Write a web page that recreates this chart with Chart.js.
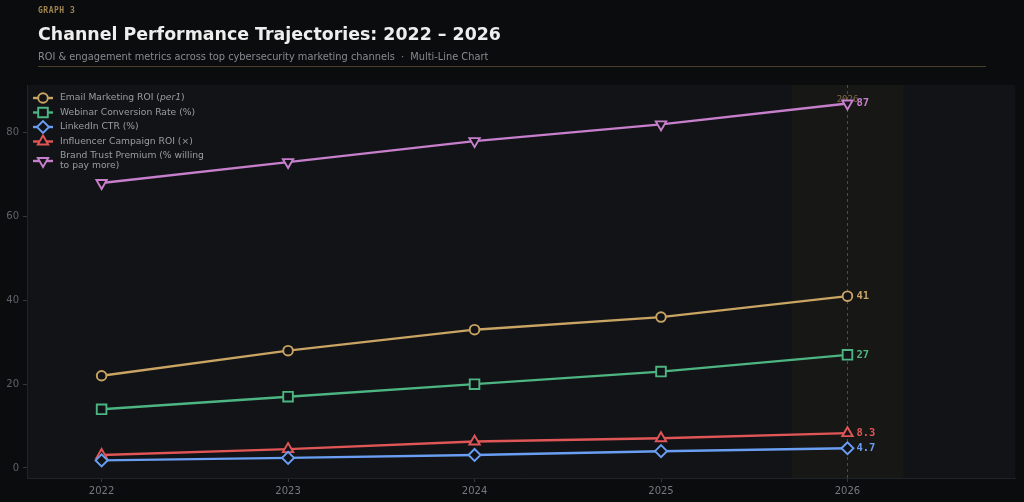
<!DOCTYPE html>
<html>
<head>
<meta charset="utf-8">
<script src="https://cdn.jsdelivr.net/npm/chart.js@4"></script>
<style>
  body { margin: 0; background: #0b0c0e; width: 1024px; height: 502px; overflow: hidden; }
  #wrap { position: relative; width: 1024px; height: 502px; }
  canvas { position: absolute; left: 0; top: 0; }
  .kicker { position: absolute; left: 38px; top: 6px; font: bold 8px "DejaVu Sans Mono", monospace; color: #a08550; letter-spacing: 0.5px; }
  .title { position: absolute; left: 38px; top: 24px; font: bold 17.4px "DejaVu Sans", sans-serif; color: #eeeeee; white-space: nowrap; }
  .sub { position: absolute; left: 38px; top: 51px; font: 9.8px "DejaVu Sans", sans-serif; color: #878a90; white-space: nowrap; }
  .rule { position: absolute; left: 38px; top: 66px; width: 948px; height: 1px; background: #4a3f2a; }
</style>
</head>
<body>
<div id="wrap">
  <canvas id="chart" width="1024" height="502"></canvas>
  <div class="kicker">GRAPH 3</div>
  <div class="title">Channel Performance Trajectories: 2022 – 2026</div>
  <div class="sub">ROI &amp; engagement metrics across top cybersecurity marketing channels &nbsp;·&nbsp; Multi-Line Chart</div>
  <div class="rule"></div>
</div>
<script>
// datos
const years = [2022, 2023, 2024, 2025, 2026];
const emailRoi = [22, 28, 33, 36, 41];
const webinarRate = [14, 17, 20, 23, 27];
const linkedinCtr = [1.8, 2.4, 3.1, 4.0, 4.7];
const influencerRoi = [3.1, 4.5, 6.3, 7.1, 8.3];
const brandTrust = [68, 73, 78, 82, 87];
const yTicks = [0, 20, 40, 60, 80];
const endLabels = ['41', '27', '4.7', '8.3', '87'];

const seriesNames = [
    'Email Marketing ROI (per1)',
    'Webinar Conversion Rate (%)',
    'LinkedIn CTR (%)',
    'Influencer Campaign ROI (×)',
    ['Brand Trust Premium (% willing', 'to pay more)']
];
const seriesValues = [emailRoi, webinarRate, linkedinCtr, influencerRoi, brandTrust];
const colors = ['#c9a463', '#4cb582', '#6a9ef2', '#e05656', '#c77fcb'];
const styles = ['circle', 'rect', 'rectRot', 'triangle', 'triangle'];
const rotations = [0, 0, 0, 0, 180];
const radii = [4.8, 6.8, 6, 6, 6];

const PLOT_BG = '#111317';

const datasets = seriesValues.map((vals, i) => ({
    label: Array.isArray(seriesNames[i]) ? seriesNames[i].join(' ') : seriesNames[i],
    data: vals.map((v, j) => ({ x: years[j], y: v })),
    borderColor: colors[i],
    borderWidth: 2.4,
    pointStyle: styles[i],
    pointRotation: rotations[i],
    pointRadius: radii[i],
    pointBorderWidth: 1.9,
    pointBackgroundColor: PLOT_BG,
    pointBorderColor: colors[i],
    tension: 0
}));

// fondo, banda de 2026 y línea vertical
const backdrop = {
    id: 'backdrop',
    beforeDraw(chart) {
        const { ctx, chartArea: a, scales: { x } } = chart;
        ctx.save();
        ctx.fillStyle = PLOT_BG;
        ctx.fillRect(a.left, a.top, a.right - a.left, a.bottom - a.top);
        const b0 = x.getPixelForValue(2025.7), b1 = x.getPixelForValue(2026.3);
        ctx.fillStyle = '#171715';
        ctx.fillRect(b0, a.top, b1 - b0, a.bottom - a.top);
        const vx = x.getPixelForValue(2026);
        ctx.strokeStyle = '#5a4a30';
        ctx.lineWidth = 1;
        ctx.setLineDash([3, 3]);
        ctx.beginPath();
        ctx.moveTo(Math.round(vx) + 0.5, a.top);
        ctx.lineTo(Math.round(vx) + 0.5, a.bottom);
        ctx.stroke();
        ctx.setLineDash([]);
        ctx.fillStyle = '#7d6b45';
        ctx.font = '9px "DejaVu Sans Mono", monospace';
        ctx.textAlign = 'center';
        ctx.textBaseline = 'middle';
        ctx.fillText('2026', vx, a.top + 15);
        ctx.restore();
    }
};

// leyenda dentro del área y etiquetas finales
const overlay = {
    id: 'overlay',
    afterDatasetsDraw(chart) {
        const { ctx, chartArea: a } = chart;
        ctx.save();
        // etiquetas al final de cada serie
        ctx.font = 'bold 10.5px "DejaVu Sans Mono", monospace';
        ctx.textAlign = 'left';
        ctx.textBaseline = 'middle';
        chart.data.datasets.forEach((ds, i) => {
            const meta = chart.getDatasetMeta(i);
            const pt = meta.data[meta.data.length - 1];
            ctx.fillStyle = colors[i];
            ctx.fillText(endLabels[i], pt.x + 9, pt.y);
        });
        // leyenda
        const rows = [98, 112.5, 127, 141.5, 161];
        ctx.font = '9.2px "DejaVu Sans", sans-serif';
        seriesNames.forEach((name, i) => {
            const y = rows[i];
            ctx.strokeStyle = colors[i];
            ctx.lineWidth = 2.4;
            ctx.beginPath();
            ctx.moveTo(a.left + 6, y);
            ctx.lineTo(a.left + 26, y);
            ctx.stroke();
            ctx.fillStyle = PLOT_BG;
            ctx.lineWidth = 1.9;
            Chart.helpers.drawPoint(ctx, {
                pointStyle: styles[i], rotation: rotations[i],
                radius: radii[i], borderWidth: 1.9
            }, a.left + 16, y);
            ctx.fillStyle = '#9a9da3';
            if (Array.isArray(name)) {
                ctx.fillText(name[0], a.left + 33, y - 5.5);
                ctx.fillText(name[1], a.left + 33, y + 5);
            } else if (i === 0) {
                // "per1" va en cursiva
                const pre = 'Email Marketing ROI (';
                ctx.fillText(pre, a.left + 33, y);
                let w = ctx.measureText(pre).width;
                ctx.font = 'italic 9.2px "DejaVu Sans", sans-serif';
                ctx.fillText('per1', a.left + 33 + w, y);
                w += ctx.measureText('per1').width;
                ctx.font = '9.2px "DejaVu Sans", sans-serif';
                ctx.fillText(')', a.left + 33 + w, y);
            } else {
                ctx.fillText(name, a.left + 33, y);
            }
        });
        ctx.restore();
    }
};

new Chart(document.getElementById('chart'), {
    type: 'line',
    data: { datasets },
    options: {
        responsive: false,
        animation: false,
        layout: { padding: { top: 85, right: 8, left: 0, bottom: 0 } },
        plugins: { legend: { display: false }, tooltip: { enabled: false } },
        scales: {
            x: {
                type: 'linear',
                min: 2021.6, max: 2026.9,
                afterBuildTicks(s) { s.ticks = years.map(v => ({ value: v })); },
                afterFit(s) { s.height = 24; },
                ticks: { color: '#75787e', font: { size: 10, family: 'DejaVu Sans' }, padding: 3, callback: v => String(v) },
                grid: { drawOnChartArea: false, color: '#34373c', tickLength: 4 },
                border: { color: '#202328' }
            },
            y: {
                min: -2.4, max: 91.4,
                afterBuildTicks(s) { s.ticks = yTicks.map(v => ({ value: v })); },
                afterFit(s) { s.width = 27; },
                ticks: { color: '#5f6268', font: { size: 10, family: 'DejaVu Sans' }, padding: 4 },
                grid: { drawOnChartArea: false, color: '#34373c', tickLength: 4 },
                border: { color: '#202328' }
            }
        }
    },
    plugins: [backdrop, overlay]
});
</script>
</body>
</html>
